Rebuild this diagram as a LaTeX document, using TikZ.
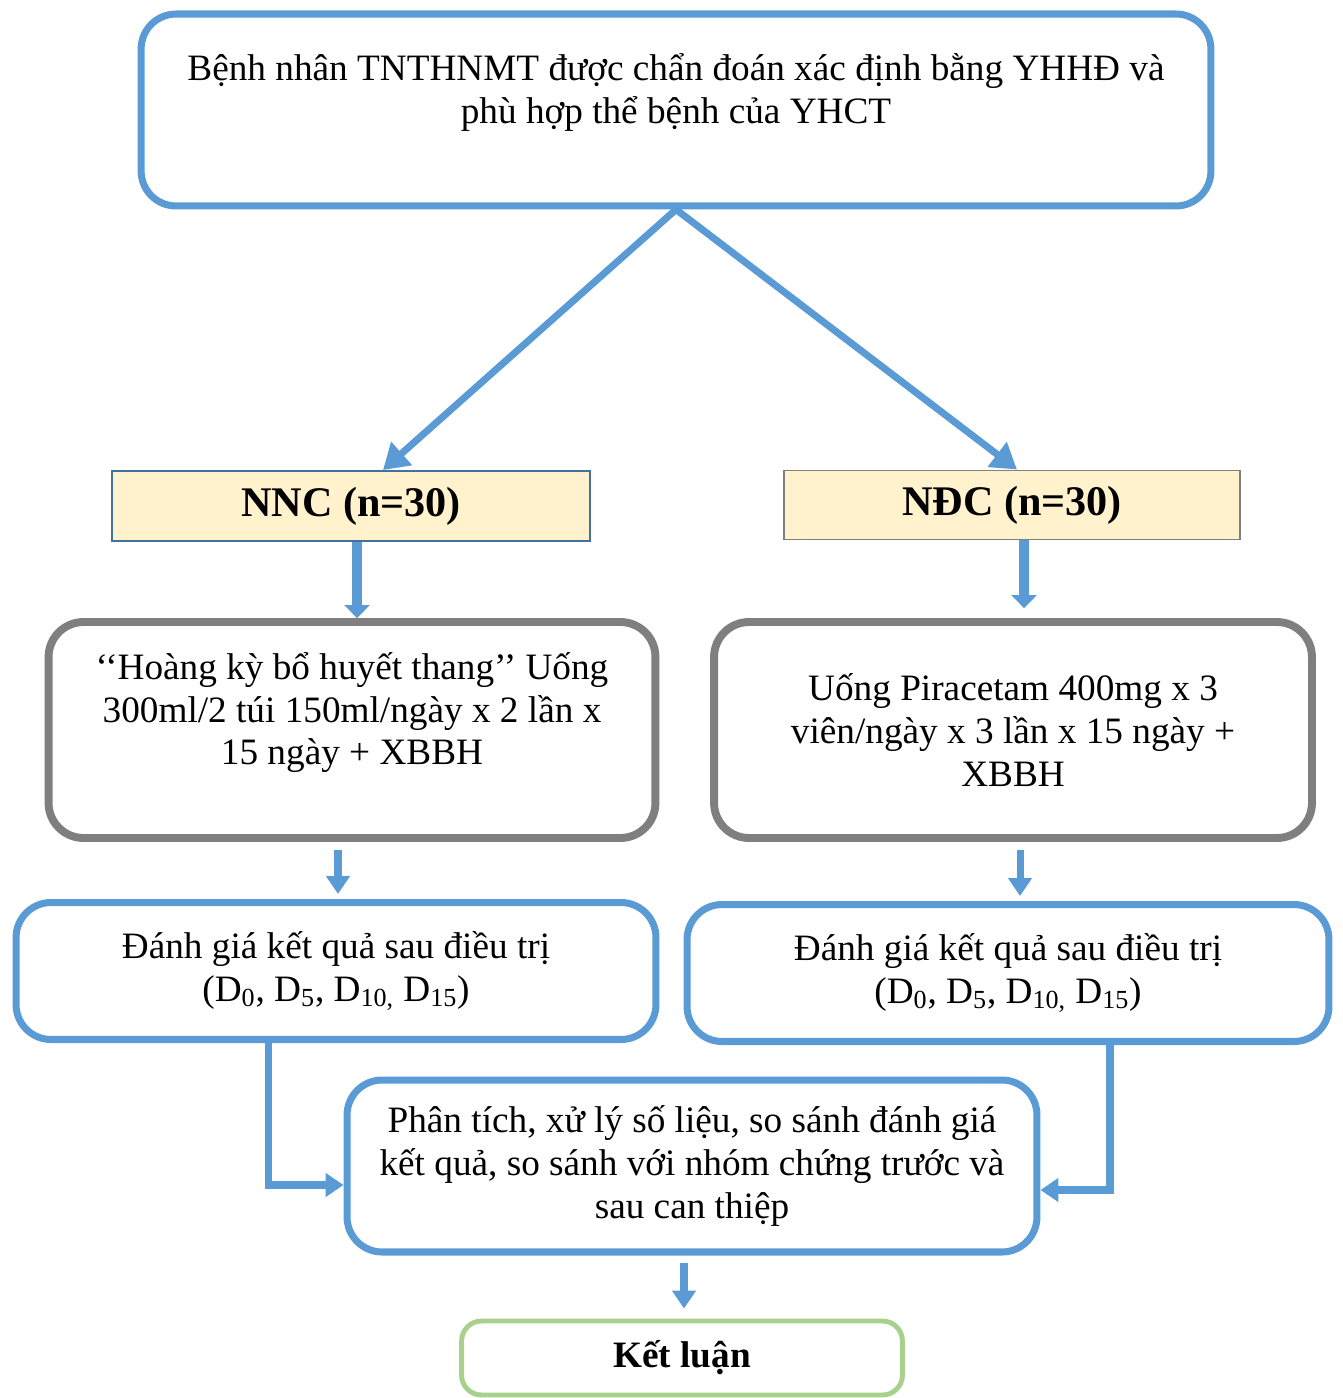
\documentclass[tikz,border=0pt]{standalone}
\usepackage{fontspec}
\setmainfont{Liberation Serif}
\usetikzlibrary{arrows.meta}
\definecolor{lineblue}{HTML}{5B9BD5}
\definecolor{darkblue}{HTML}{41719C}
\definecolor{linegray}{HTML}{7F7F7F}
\definecolor{groupfill}{HTML}{FFF2CC}
\definecolor{linegreen}{HTML}{A9D18E}
\begin{document}
\begin{tikzpicture}[x=0.02cm, y=-0.02cm,
    box/.style={draw=lineblue, line width=4pt, rounded corners=0.7cm,
                align=center, font=\fontsize{21.2}{24.4}\selectfont},
    graybox/.style={box, draw=linegray, line width=4.5pt},
    group/.style={draw=darkblue, line width=1.1pt, fill=groupfill,
                  font=\fontsize{24}{28}\selectfont\bfseries},
    flow/.style={-{Triangle[length=0.5cm,width=0.6cm]}, line width=4pt, draw=lineblue},
    steparrow/.style={-{Triangle[length=0.36cm,width=0.46cm]}, line width=4pt, draw=lineblue},
    blockarrow/.style={-{Triangle[length=0.26cm,width=0.5cm]}, line width=6pt, draw=lineblue}
]
\useasboundingbox (0,0) rectangle (1342,1398);

\node[box, minimum width=21.4cm, minimum height=3.84cm] (top) at (676,110)
    {Bệnh nhân TNTHNMT được chẩn đoán xác định bằng YHHĐ và\\
     phù hợp thể bệnh của YHCT\\~};
\node[group, minimum width=9.56cm, minimum height=1.4cm] (nnc) at (351,506) {NNC (n=30)};
\node[group, draw=linegray, minimum width=9.12cm, minimum height=1.38cm] (ndc) at (1012,505) {NĐC (n=30)};

\node[graybox, minimum width=12.14cm, minimum height=4.32cm] (treatL) at (352,730)
    {‘‘Hoàng kỳ bổ huyết thang’’ Uống\\
     300ml/2 túi 150ml/ngày x 2 lần x\\
     15 ngày + XBBH\\~};
\node[graybox, minimum width=11.96cm, minimum height=4.32cm] (treatR) at (1013,730)
    {Uống Piracetam 400mg x 3\\
     viên/ngày x 3 lần x 15 ngày +\\
     XBBH};

\node[box, minimum width=12.8cm, minimum height=2.74cm] (evalL) at (336,971)
    {Đánh giá kết quả sau điều trị\\
     (D\textsubscript{0}, D\textsubscript{5}, D\textsubscript{10,} D\textsubscript{15})};
\node[box, minimum width=12.84cm, minimum height=2.74cm] (evalR) at (1008,973)
    {Đánh giá kết quả sau điều trị\\
     (D\textsubscript{0}, D\textsubscript{5}, D\textsubscript{10,} D\textsubscript{15})};

\node[box, minimum width=13.8cm, minimum height=3.44cm] (ana) at (692,1166)
    {Phân tích, xử lý số liệu, so sánh đánh giá\\
     kết quả, so sánh với nhóm chứng trước và\\
     sau can thiệp};
\node[box, draw=linegreen, line width=2.8pt, rounded corners=0.4cm,
      minimum width=8.82cm, minimum height=1.48cm,
      font=\fontsize{21.2}{24.4}\selectfont\bfseries] (ket) at (682,1358) {Kết luận};

\draw[flow] (top.south) -- ([xshift=0.64cm]nnc.north);
\draw[flow] (top.south) -- ([xshift=0.1cm]ndc.north);

\draw[blockarrow] ([xshift=0.12cm]nnc.south) -- ([xshift=0.12cm]nnc.south |- treatL.north);
\draw[blockarrow, shorten >=0.2cm] ([xshift=0.24cm]ndc.south) -- ([xshift=0.24cm]ndc.south |- treatR.north);

\draw[steparrow, shorten <=0.16cm, shorten >=0.1cm] ([xshift=-0.28cm]treatL.south) -- ([xshift=-0.28cm]treatL.south |- evalL.north);
\draw[steparrow, shorten <=0.16cm, shorten >=0.1cm] ([xshift=0.14cm]treatR.south) -- ([xshift=0.14cm]treatR.south |- evalR.north);

\draw[steparrow] ([xshift=-1.36cm]evalL.south) |- ([yshift=-0.38cm]ana.west);
\draw[steparrow] ([xshift=2.04cm]evalR.south) |- ([yshift=-0.48cm]ana.east);

\draw[steparrow, shorten <=0.14cm, shorten >=0.2cm] ([xshift=-0.16cm]ana.south) -- ([xshift=-0.16cm]ana.south |- ket.north);

\end{tikzpicture}
\end{document}
